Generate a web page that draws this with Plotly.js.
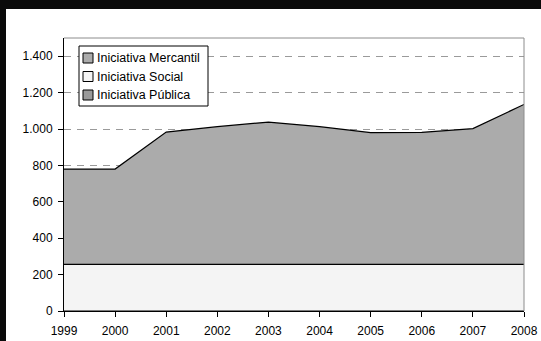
<!DOCTYPE html>
<html>
<head>
<meta charset="utf-8">
<script src="https://cdn.plot.ly/plotly-3.0.1.min.js"></script>
<style>
  html, body { margin: 0; padding: 0; background: #ffffff; overflow: hidden; width: 100%; height: 100%; }
  .frame { position: absolute; background: #0a0a0a; }
  #frame-top { left: 0; top: 0; width: 100%; height: 9px; }
  #frame-left { left: 0; top: 0; width: 6px; height: 100%; }
  #chart { position: absolute; left: 6px; top: 9px; width: 535px; height: 332px; }
</style>
</head>
<body>
<div id="chart"></div>
<div class="frame" id="frame-top"></div>
<div class="frame" id="frame-left"></div>
<script>
// Years on the horizontal axis
const years = [1999, 2000, 2001, 2002, 2003, 2004, 2005, 2006, 2007, 2008];

// Stacked series, bottom to top
const publica   = [0, 0, 0, 0, 0, 0, 0, 0, 0, 0];
const social    = [256, 256, 256, 256, 256, 256, 256, 256, 256, 256];
const mercantil = [524, 524, 727, 757, 782, 757, 724, 726, 746, 879];

// Legend entries (top to bottom) and their swatch colours
const legendNames  = ['Iniciativa Mercantil', 'Iniciativa Social', 'Iniciativa Pública'];
const legendColors = ['#ababab', '#f4f4f4', '#9a9a9a'];

// Value axis ticks
const yTickVals  = [0, 200, 400, 600, 800, 1000, 1200, 1400];
const yTickText  = ['0', '200', '400', '600', '800', '1.000', '1.200', '1.400'];

const W = 535, H = 332;
const M = { l: 58, r: 17, t: 29, b: 30 };
const plotW = W - M.l - M.r, plotH = H - M.t - M.b;
const px2x = p => (p - M.l) / plotW;
const px2y = p => (H - M.b - p) / plotH;

const FONT = 'Liberation Sans, Arial, sans-serif';

const traces = [
  { name: 'Iniciativa Pública', y: publica, color: '#9a9a9a' },
  { name: 'Iniciativa Social', y: social, color: '#f4f4f4' },
  { name: 'Iniciativa Mercantil', y: mercantil, color: '#ababab' }
].map(s => ({
  type: 'scatter',
  mode: 'lines',
  x: years,
  y: s.y,
  name: s.name,
  stackgroup: 'one',
  fillcolor: s.color,
  line: { color: '#000000', width: 1.2 },
  hoverinfo: 'skip'
}));

const shapes = [];
const annotations = [];

// Grey plot-area border on top and right
shapes.push({ type: 'line', xref: 'paper', yref: 'paper', layer: 'above',
  x0: 0, x1: 1, y0: 1, y1: 1, line: { color: '#8c8c8c', width: 1 } });
shapes.push({ type: 'line', xref: 'paper', yref: 'paper', layer: 'above',
  x0: 1, x1: 1, y0: 0, y1: 1, line: { color: '#8c8c8c', width: 1 } });

// Legend box (pixel positions are relative to the chart div)
shapes.push({ type: 'rect', xref: 'paper', yref: 'paper', layer: 'above',
  x0: px2x(73), x1: px2x(202), y0: px2y(97), y1: px2y(37),
  fillcolor: '#ffffff', line: { color: '#000000', width: 1 } });

legendNames.forEach((name, i) => {
  const cy = 49 + i * 18.5;
  shapes.push({ type: 'rect', xref: 'paper', yref: 'paper', layer: 'above',
    x0: px2x(77), x1: px2x(87), y0: px2y(cy + 5), y1: px2y(cy - 5),
    fillcolor: legendColors[i], line: { color: '#000000', width: 1 } });
  annotations.push({ xref: 'paper', yref: 'paper', x: px2x(89), y: px2y(cy),
    xanchor: 'left', yanchor: 'middle', showarrow: false, text: name,
    font: { family: FONT, size: 12.5, color: '#000000' } });
});

const layout = {
  width: W, height: H,
  margin: M,
  paper_bgcolor: '#ffffff',
  plot_bgcolor: '#ffffff',
  showlegend: false,
  font: { family: FONT, size: 12, color: '#000000' },
  xaxis: {
    range: [years[0], years[years.length - 1]],
    tickvals: years,
    ticktext: years.map(String),
    showgrid: false,
    zeroline: false,
    showline: true, linecolor: '#000000', linewidth: 1,
    ticks: 'outside', ticklen: 5, tickcolor: '#000000',
    ticklabelstandoff: 4,
    tickfont: { family: FONT, size: 12, color: '#000000' }
  },
  yaxis: {
    range: [0, 1500],
    tickvals: yTickVals,
    ticktext: yTickText,
    showgrid: true, gridcolor: '#9a9a9a', gridwidth: 1, griddash: '7px,6px',
    zeroline: false,
    showline: true, linecolor: '#000000', linewidth: 1,
    ticks: 'outside', ticklen: 5, tickcolor: '#000000',
    ticklabelstandoff: 3,
    tickfont: { family: FONT, size: 12, color: '#000000' }
  },
  shapes: shapes,
  annotations: annotations
};

Plotly.newPlot('chart', traces, layout, { displayModeBar: false, staticPlot: true });
</script>
</body>
</html>
